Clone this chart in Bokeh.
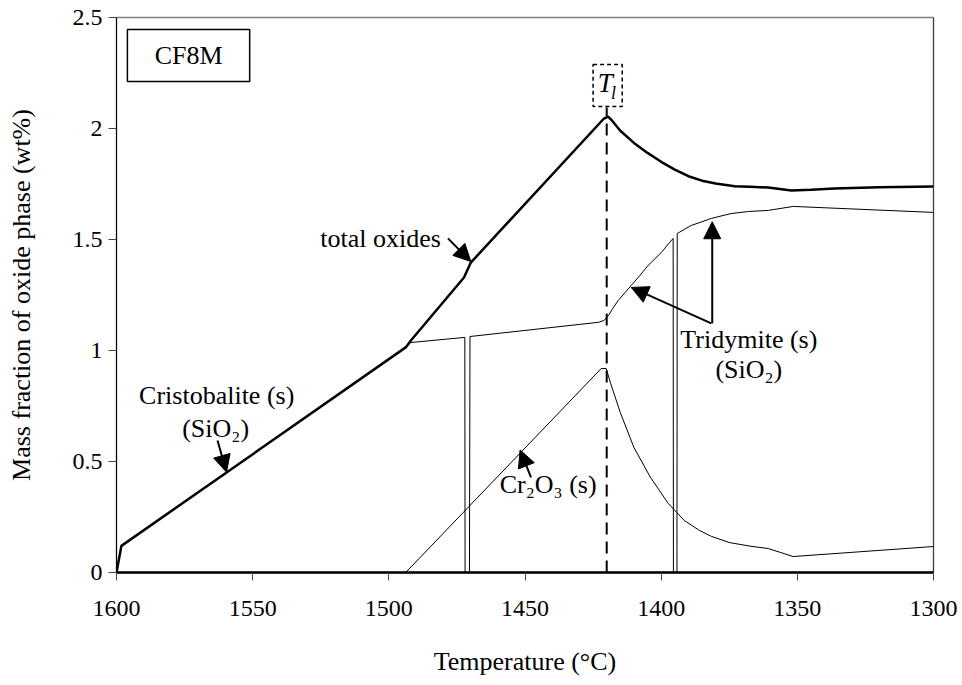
from bokeh.plotting import figure
from bokeh.models import Range1d, FixedTicker, Label, Arrow, NormalHead, Span, BoxAnnotation
from bokeh.embed import file_html
from bokeh.resources import INLINE

# ---- data ----
temp_total = [1600, 1598.2, 1493.8, 1491.9, 1472.4, 1469.9, 1421.0, 1419.5, 1418.0, 1415.0,
              1410.0, 1405.0, 1400.0, 1395.0, 1390.0, 1385.0, 1380.0, 1373.0, 1365.0, 1360.7,
              1352.2, 1345.0, 1336.4, 1320.0, 1300]
total_oxides = [0.0, 0.12, 1.014, 1.045, 1.329, 1.396, 2.045, 2.054, 2.035, 1.990,
                1.935, 1.890, 1.850, 1.815, 1.785, 1.765, 1.752, 1.740, 1.736, 1.734,
                1.721, 1.724, 1.730, 1.735, 1.739]

temp_silica = [1493.8, 1491.9, 1472.1, 1472.0, 1470.4, 1470.2, 1423.0, 1421.0, 1419.1, 1418.0,
               1415.8, 1411.0, 1408.0, 1404.8, 1400.0, 1395.6, 1395.5, 1394.2, 1394.1, 1389.0,
               1385.0, 1381.6, 1374.3, 1368.0, 1360.7, 1351.5, 1300]
silica = [1.014, 1.036, 1.059, 0.0, 0.0, 1.063, 1.127, 1.135, 1.162, 1.185,
          1.225, 1.293, 1.335, 1.383, 1.441, 1.505, 0.0, 0.0, 1.527, 1.563,
          1.580, 1.595, 1.617, 1.626, 1.631, 1.649, 1.622]

temp_cr2o3 = [1493.8, 1422.0, 1420.2, 1418.5, 1415.0, 1410.0, 1404.0, 1397.4, 1391.5, 1386.0,
              1381.6, 1375.0, 1367.0, 1360.7, 1351.5, 1300]
cr2o3 = [0.0, 0.919, 0.919, 0.850, 0.720, 0.563, 0.430, 0.311, 0.234, 0.190,
         0.163, 0.135, 0.118, 0.108, 0.072, 0.117]

liquidus_T = 1420
x_ticks = [1600, 1550, 1500, 1450, 1400, 1350, 1300]
y_ticks = [0, 0.5, 1, 1.5, 2, 2.5]
y_tick_labels = ["0", "0.5", "1", "1.5", "2", "2.5"]

FONT = "Liberation Serif"

p = figure(width=962, height=685, x_range=Range1d(1600, 1300), y_range=Range1d(0, 2.5),
           output_backend="svg", toolbar_location=None,
           min_border_left=116, min_border_right=29, min_border_top=17, min_border_bottom=113)
p.background_fill_color = "white"
p.border_fill_color = "white"
p.xgrid.grid_line_color = None
p.ygrid.grid_line_color = None
p.outline_line_color = "#808080"
p.outline_line_width = 1.5

p.xaxis.ticker = FixedTicker(ticks=x_ticks)
p.yaxis.ticker = FixedTicker(ticks=y_ticks)
p.yaxis.major_label_overrides = {float(t): l for t, l in zip(y_ticks, y_tick_labels)}
p.xaxis.axis_label = "Temperature (°C)"
p.yaxis.axis_label = "Mass fraction of oxide phase (wt%)"
for ax in (p.xaxis, p.yaxis):
    ax.axis_label_text_font = FONT
    ax.axis_label_text_font_style = "normal"
    ax.axis_label_text_font_size = "26px"
    ax.axis_label_text_color = "black"
    ax.major_label_text_font = FONT
    ax.major_label_text_font_size = "24px"
    ax.major_label_text_color = "black"
    ax.axis_line_color = "black"
    ax.major_tick_line_color = "#444444"
    ax.major_tick_in = 0
    ax.major_tick_out = 8
    ax.minor_tick_line_color = None
p.xaxis.axis_line_width = 2.5
p.yaxis.axis_line_width = 1
p.xaxis.major_label_standoff = 20
p.xaxis.axis_label_standoff = 28
p.yaxis.major_label_standoff = 6
p.yaxis.axis_label_standoff = 34

p.add_layout(Span(location=1300, dimension="height", line_color="black", line_width=1))

# curves
p.line(temp_silica, silica, line_color="black", line_width=1)
p.line(temp_cr2o3, cr2o3, line_color="black", line_width=1)
p.line(temp_total, total_oxides, line_color="black", line_width=2.5)
p.line([liquidus_T, liquidus_T], [0, 2.095], line_color="black", line_width=2, line_dash="12 7")

# CF8M box
p.add_layout(BoxAnnotation(left=1596.0, right=1551.1, top=2.446, bottom=2.212,
                           fill_color=None, fill_alpha=0, line_color="black", line_alpha=1.0,
                           line_width=1.5))
p.add_layout(Label(x=1573.5, y=2.329, text="CF8M", text_align="center", text_baseline="middle",
                   text_font=FONT, text_font_size="26px", text_color="black"))

# T_l box
p.add_layout(BoxAnnotation(left=1425.0, right=1414.3, top=2.288, bottom=2.099,
                           fill_color=None, fill_alpha=0, line_color="black", line_alpha=1.0,
                           line_width=1.5, line_dash="4 3"))
p.add_layout(Label(x=1423.3, y=2.203, text="T", text_align="left", text_baseline="middle",
                   text_font=FONT, text_font_size="27px", text_font_style="italic", text_color="black"))
p.add_layout(Label(x=1418.4, y=2.158, text="l", text_align="left", text_baseline="middle",
                   text_font=FONT, text_font_size="18px", text_font_style="italic", text_color="black"))

def lab(x, y, t, align="center"):
    p.add_layout(Label(x=x, y=y, text=t, text_align=align, text_baseline="middle",
                       text_font=FONT, text_font_size="26px", text_color="black"))

def arr(x0, y0, x1, y1):
    p.add_layout(Arrow(end=NormalHead(size=17, fill_color="black", line_color="black", line_width=1),
                       x_start=x0, y_start=y0, x_end=x1, y_end=y1,
                       line_color="black", line_width=2))

# total oxides
lab(1480.9, 1.505, "total oxides", "right")
arr(1478.3, 1.505, 1469.9, 1.401)

# cristobalite
lab(1563.2, 0.797, "Cristobalite (s)")
lab(1563.6, 0.649, "(SiO₂)")
arr(1562.9, 0.595, 1559.6, 0.452)

# Cr2O3
lab(1441.5, 0.396, "Cr₂O₃ (s)")
arr(1447.8, 0.428, 1451.8, 0.552)

# tridymite
lab(1367.8, 1.050, "Tridymite (s)")
lab(1367.8, 0.914, "(SiO₂)")
arr(1381.6, 1.122, 1411.0, 1.284)
arr(1381.25, 1.122, 1381.25, 1.58)

open("out.html", "w").write(file_html(p, INLINE))
